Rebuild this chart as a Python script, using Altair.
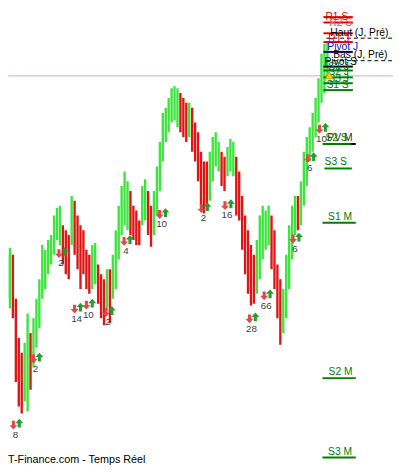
import altair as alt
import pandas as pd

# ---------------- data ----------------
bar_high = [220, 215, 245, 252, 245, 200, 160, 145, 155, 185,
            165, 180, 200, 220, 255, 250, 260, 265, 285, 293,
            295, 275, 270, 265, 305, 300, 285, 275, 270, 250,
            245, 255, 257, 235, 225, 220, 230, 230, 245, 270,
            295, 315, 330, 320, 310, 295, 290, 280, 315, 322,
            310, 295, 310, 335, 360, 390, 395, 405, 415, 417,
            415, 410, 405, 400, 400, 395, 380, 370, 350, 340,
            340, 350, 365, 370, 360, 350, 345, 355, 363, 360,
            345, 330, 305, 285, 270, 255, 245, 260, 285, 295,
            290, 295, 285, 270, 235, 220, 210, 245, 275, 295,
            305, 305, 320, 350, 365, 375, 390, 405, 425, 450,
            460, 463]
bar_low = [175, 167, 200, 190, 180, 115, 90, 83, 95, 85,
           107, 130, 150, 170, 200, 210, 225, 235, 245, 260,
           255, 235, 225, 220, 255, 245, 230, 210, 225, 210,
           205, 210, 215, 195, 180, 173, 190, 175, 200, 210,
           240, 265, 275, 270, 265, 260, 255, 255, 275, 280,
           265, 253, 265, 285, 310, 340, 360, 370, 380, 382,
           375, 370, 365, 360, 365, 350, 340, 320, 295, 287,
           290, 300, 320, 335, 330, 315, 310, 325, 330, 325,
           285, 280, 250, 225, 205, 193, 195, 205, 220, 240,
           250, 255, 230, 210, 180, 153, 165, 180, 210, 240,
           265, 270, 275, 295, 315, 340, 350, 365, 380, 400,
           410, 425]
bar_dir = list("DDUUDDDDUUD" + "UUUUUUUUUU" + "DDDU" + "DDDDDD" + "UU" + "DDDUD"
               + "UUUUUU" + "DDDD" + "UU" + "DD" + "UUUUUUUUU" + "DDDU" + "DDDDDD"
               + "UUUU" + "DD" + "UUU" + "DDDDDDD" + "UUUUU" + "DDDD" + "UUUUU" + "D"
               + "UUUUUUUUUU")

signal_bar = [5.17, 12.0, 20.67, 26.0, 30.0, 36.67, 42.83, 54.92, 69.17,
              77.17, 85.5, 90.5, 100.33, 105.33, 109.33]
signal_price = [72, 139.5, 247, 190.5, 194.5, 187, 259.5, 287, 293,
                296, 180.5, 204, 262, 344, 374]
signal_count = [8, 2, 2, 14, 10, 2, 4, 10, 2, 16, 28, 66, 6, 6, 10]

level_names = ["R1 S", "R2 S", "R2 J", "Haut (J, Pré)", "R1 J", "Pivot J",
               "Bas (J, Pré)", "Pivot S", "S1 J", "S2 J", "S3 J", "S1 S",
               "PV M", "S2 S", "S3 S", "S1 M", "S2 M", "S3 M"]
level_prices = [487.5, 482, 471, 466, 462, 452, 443, 437, 433, 426, 420, 413,
                358, 358, 333, 277.5, 119, 38]
last_price = 427.5
alert_price = 428
footer = "T-Finance.com - Temps Réel"

# ---------------- styling ----------------
FONT = "Liberation Sans"
RED, GREEN, NAVY, BLACK = "#e00000", "#008000", "#000080", "#000000"
XS = alt.Scale(domain=[7 / 3, 7 / 3 + 131], nice=False, zero=False)
YS = alt.Scale(domain=[30, 492], nice=False, zero=False)

# name: (text colour, line colour, x1, x2, dashed, align, text x, dy, show text)
style = {
    "R1 S": (RED, RED, 322, 352, False, "left", 324, 3.0, True),
    "R2 S": ("#e85050", RED, 322, 352, False, "left", 328, 3.5, True),
    "R2 J": (RED, RED, 322, 352, False, "left", 328, -1, False),
    "Haut (J, Pré)": (BLACK, BLACK, 325, 393, True, "left", 329, -2.5, True),
    "R1 J": (RED, RED, 322, 352, False, "left", 327, -0.5, True),
    "Pivot J": ("#1010c0", NAVY, 322, 352, False, "left", 326, -2, True),
    "Bas (J, Pré)": (BLACK, BLACK, 325, 393, True, "left", 332, -2.5, True),
    "Pivot S": (BLACK, BLACK, 322, 352, False, "left", 323, -1.5, True),
    "S1 J": (GREEN, GREEN, 322, 352, False, "left", 327, -1, True),
    "S2 J": (GREEN, GREEN, 322, 352, False, "left", 327, -2, True),
    "S3 J": (GREEN, GREEN, 322, 352, False, "left", 327, -1, True),
    "S1 S": (GREEN, GREEN, 322, 352, False, "left", 325, -2, True),
    "PV M": ("#203020", BLACK, 325, 355, False, "left", 326, -3.5, True),
    "S2 S": (GREEN, GREEN, 321, 350, False, "left", 324, -3.5, True),
    "S3 S": (GREEN, GREEN, 323, 351, False, "center", 334.5, -4, True),
    "S1 M": (GREEN, GREEN, 321, 355, False, "center", 339, -3, True),
    "S2 M": (GREEN, GREEN, 321, 355, False, "center", 339.5, -3, True),
    "S3 M": (GREEN, GREEN, 321, 355, False, "center", 339, -2.5, True),
}

bars = pd.DataFrame({
    "i": list(range(len(bar_high))),
    "high": bar_high,
    "low": bar_low,
    "dir": ["up" if d == "U" else "down" for d in bar_dir],
})
signals = pd.DataFrame({"i": signal_bar, "price": signal_price, "n": signal_count})
levels = pd.DataFrame({"name": level_names, "price": level_prices})

layers = []

# last price line
layers.append(
    alt.Chart(pd.DataFrame({"price": [last_price]})).mark_rule(
        color="#e8a4a4", strokeWidth=1
    ).encode(y=alt.Y("price:Q", scale=YS, axis=None), x=alt.value(0), x2=alt.value(393))
)

# price bars
layers.append(
    alt.Chart(bars).mark_rule(strokeWidth=2.4, clip=True).encode(
        x=alt.X("i:Q", scale=XS, axis=None),
        y=alt.Y("low:Q", scale=YS, axis=None),
        y2="high:Q",
        color=alt.Color("dir:N", scale=alt.Scale(domain=["up", "down"],
                                                 range=["#3de43d", "#e01414"]),
                        legend=None),
    )
)

DOWN = "M -0.35 -1 L 0.35 -1 L 0.35 0 L 0.9 0 L 0 1 L -0.9 0 L -0.35 0 Z"
UP = "M -0.35 1 L 0.35 1 L 0.35 0 L 0.9 0 L 0 -1 L -0.9 0 L -0.35 0 Z"

base_sig = alt.Chart(signals)
layers.append(
    base_sig.mark_point(shape=DOWN, filled=True, color="#e04848", size=81,
                        opacity=1, xOffset=-3, yOffset=1).encode(
        x=alt.X("i:Q", scale=XS, axis=None), y=alt.Y("price:Q", scale=YS, axis=None))
)
layers.append(
    base_sig.mark_point(shape=UP, filled=True, color="#2b9b2b", size=81,
                        opacity=1, xOffset=3, yOffset=-1).encode(
        x=alt.X("i:Q", scale=XS, axis=None), y=alt.Y("price:Q", scale=YS, axis=None))
)
layers.append(
    base_sig.mark_text(font=FONT, fontSize=10, color="#404040", dy=11, dx=-1,
                       baseline="middle").encode(
        x=alt.X("i:Q", scale=XS, axis=None), y=alt.Y("price:Q", scale=YS, axis=None),
        text="n:Q")
)

# level lines and labels
for name in level_names:
    tc, lc, x1, x2, dashed, align, tx, dy, show = style[name]
    src = alt.Chart(levels).transform_filter(alt.datum.name == name)
    rule_kw = dict(color=lc, strokeWidth=1 if dashed else 2)
    if dashed:
        rule_kw["strokeDash"] = [4, 3]
    layers.append(
        src.mark_rule(**rule_kw).encode(
            y=alt.Y("price:Q", scale=YS, axis=None), x=alt.value(x1), x2=alt.value(x2))
    )
    if show:
        layers.append(
            src.mark_text(font=FONT, fontSize=10.5, color=tc, align=align,
                          baseline="alphabetic", dy=dy).encode(
                y=alt.Y("price:Q", scale=YS, axis=None), x=alt.value(tx), text="name:N")
        )

# alert icon
layers.append(
    alt.Chart(pd.DataFrame({"price": [alert_price]})).mark_point(
        shape="triangle-up", filled=True, fill="#f2cf1f", stroke="#b89000",
        strokeWidth=0.8, size=70, opacity=1).encode(
        y=alt.Y("price:Q", scale=YS, axis=None), x=alt.value(328))
)

# footer
layers.append(
    alt.Chart(pd.DataFrame({"t": [footer]})).mark_text(
        font=FONT, fontSize=11, color="#000000", align="left", baseline="alphabetic"
    ).encode(text="t:N", x=alt.value(0), y=alt.value(460))
)

chart = alt.layer(*layers).properties(
    width=393, height=462, padding=0, autosize=alt.AutoSizeParams(type="none")
).configure_view(stroke=None)

chart.save("out.html", embed_options={"renderer": "svg", "actions": False})
